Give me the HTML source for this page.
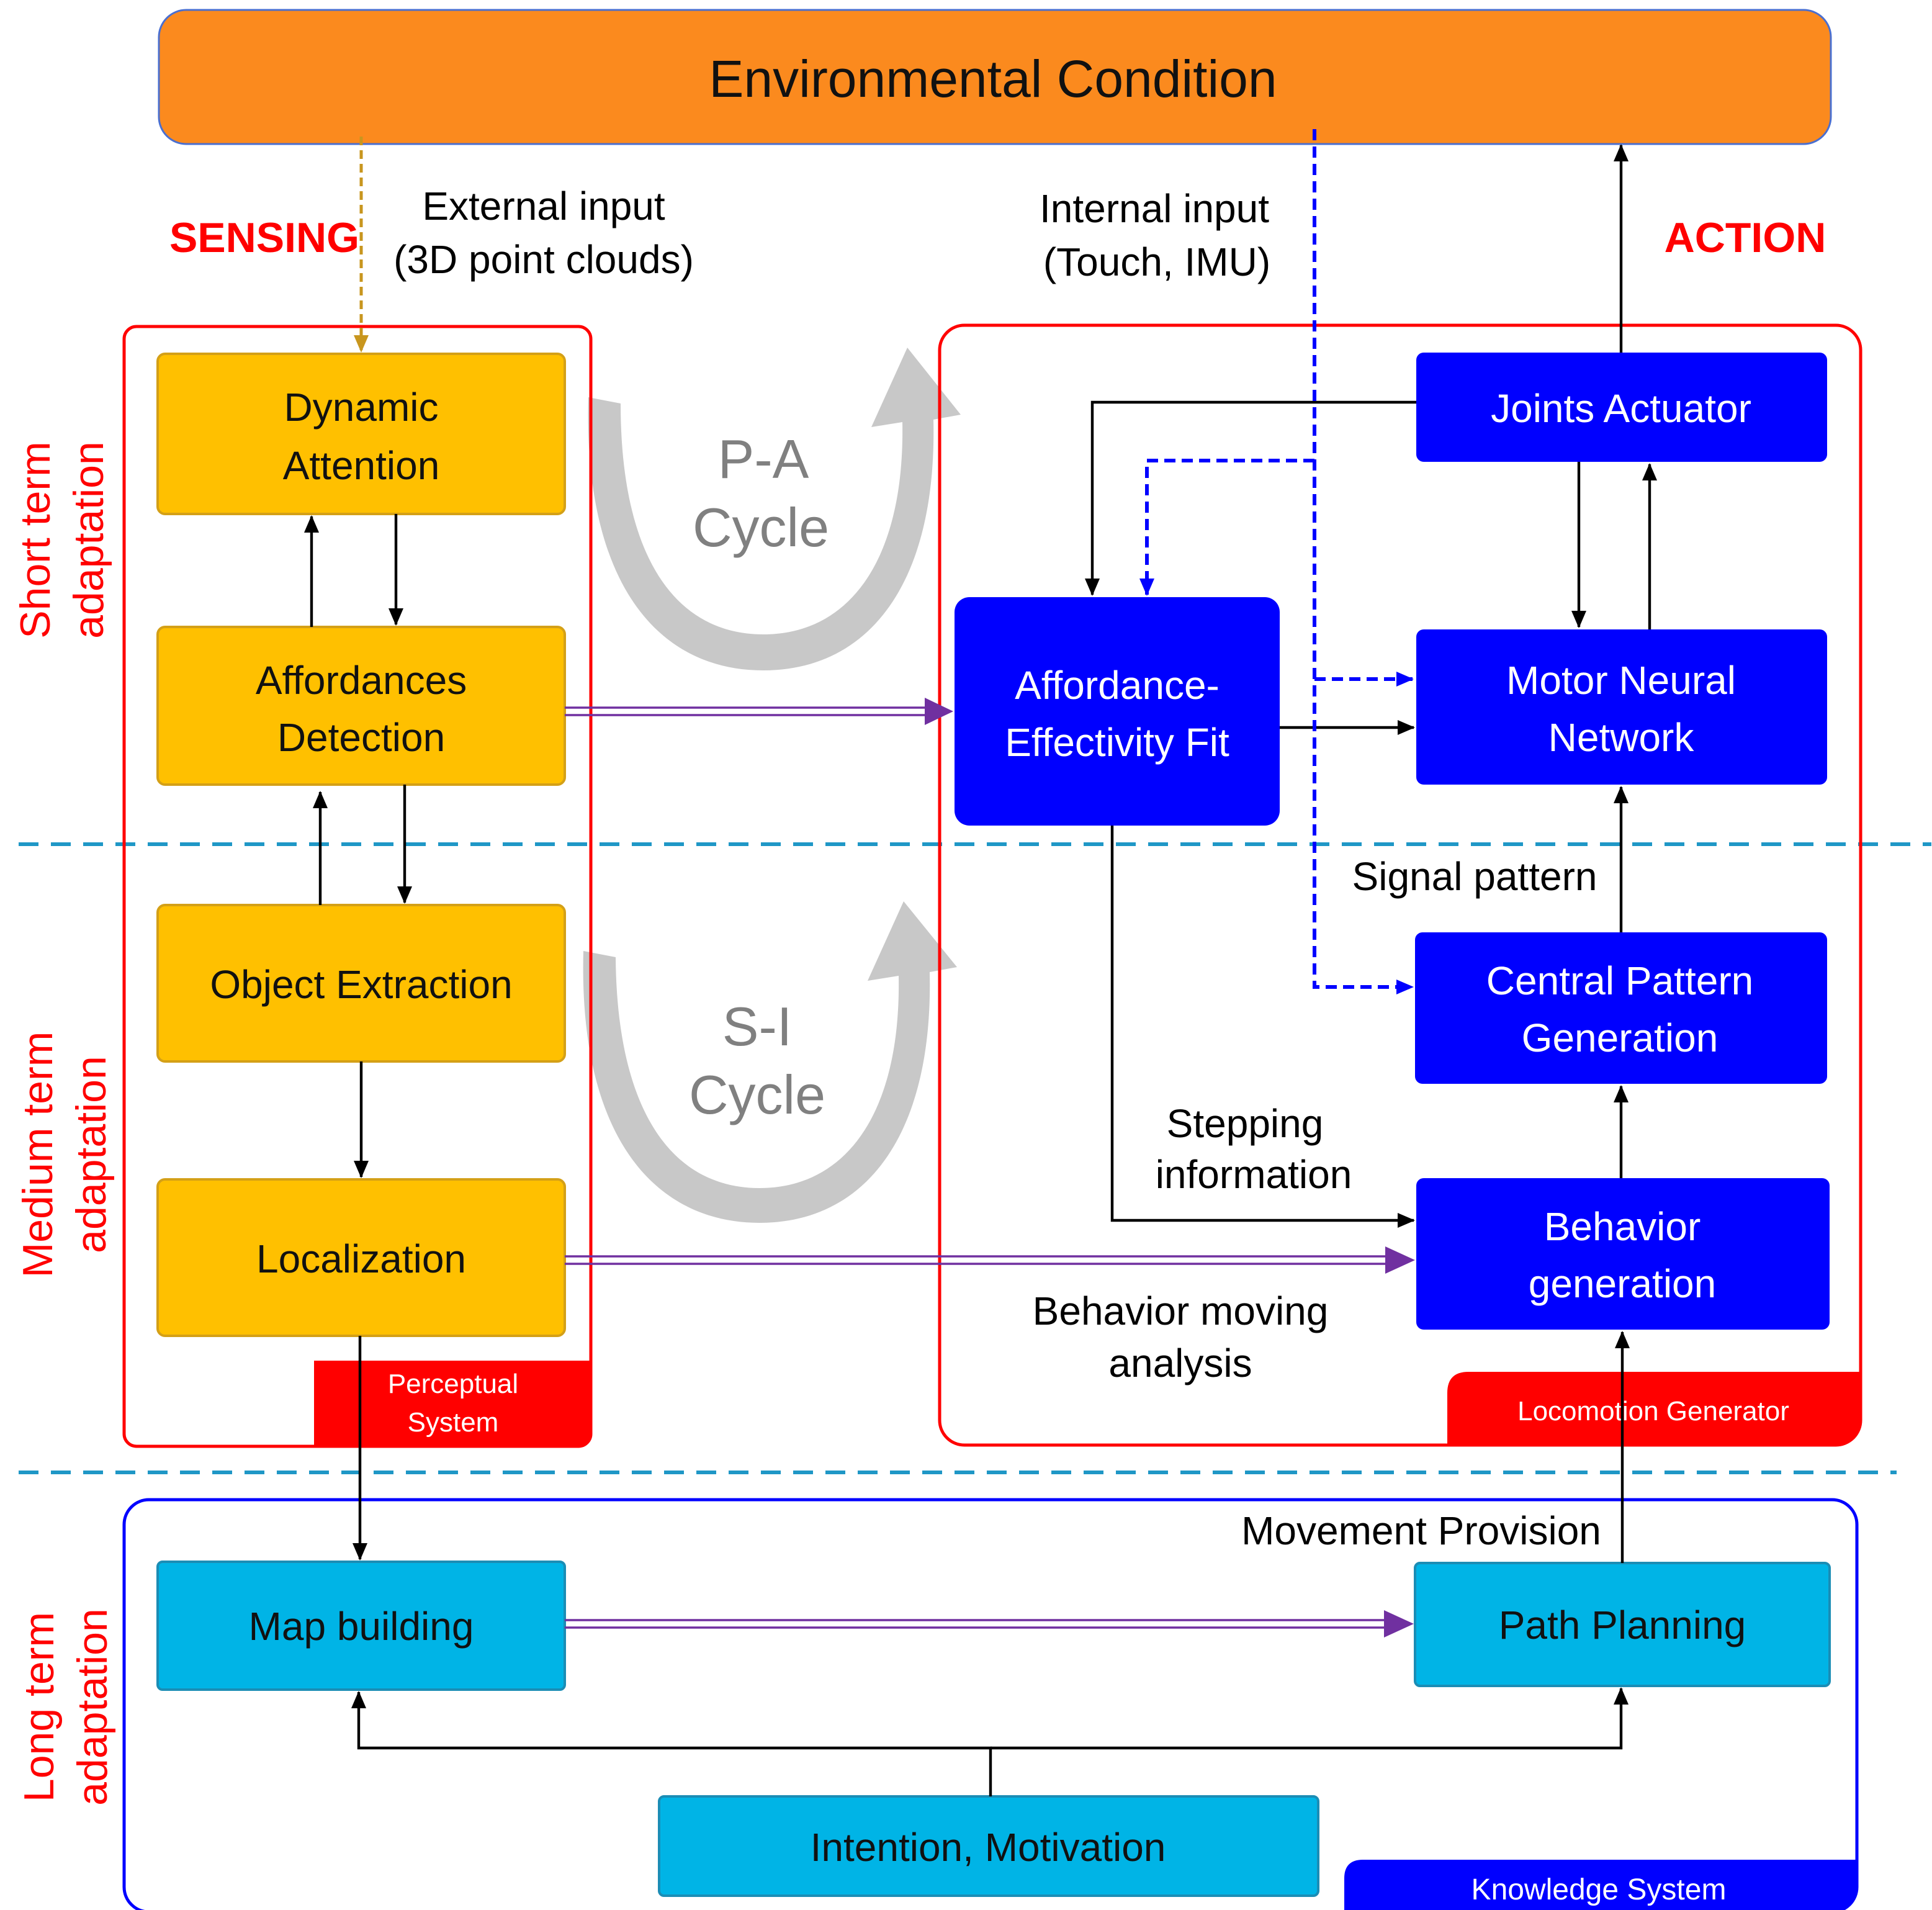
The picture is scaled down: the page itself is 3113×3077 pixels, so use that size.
<!DOCTYPE html>
<html><head><meta charset="utf-8"><style>
html,body{margin:0;padding:0;background:#fff;}
svg{display:block;}
text{font-family:"Liberation Sans",sans-serif;}
</style></head><body>
<svg width="3113" height="3077" viewBox="0 0 1556.5 1538.5" xmlns="http://www.w3.org/2000/svg">
<defs>
<marker id="ab" markerWidth="14" markerHeight="12" refX="13" refY="6" orient="auto" markerUnits="userSpaceOnUse"><path d="M0,0 L14,6 L0,12 z" fill="#000"/></marker>
<marker id="abl" markerWidth="14" markerHeight="12" refX="13" refY="6" orient="auto" markerUnits="userSpaceOnUse"><path d="M0,0 L14,6 L0,12 z" fill="#0000FF"/></marker>
<marker id="ag" markerWidth="14" markerHeight="12" refX="13" refY="6" orient="auto" markerUnits="userSpaceOnUse"><path d="M0,0 L14,6 L0,12 z" fill="#C8961E"/></marker>
</defs>

<rect x="128" y="8" width="1347" height="108" rx="22" fill="#FB8A1E" stroke="#4A6FD0" stroke-width="1.5"/>
<text x="800" y="78" font-size="42" text-anchor="middle" fill="#111">Environmental Condition</text>

<text x="213" y="203" font-size="34" font-weight="bold" fill="#FF0000" text-anchor="middle">SENSING</text>
<text x="1406" y="203" font-size="34" font-weight="bold" fill="#FF0000" text-anchor="middle">ACTION</text>
<text x="438" y="177" font-size="32" text-anchor="middle" fill="#000">External input</text>
<text x="438" y="220" font-size="32" text-anchor="middle" fill="#000">(3D point clouds)</text>
<text x="930" y="179" font-size="32" text-anchor="middle" fill="#000">Internal input</text>
<text x="932" y="222" font-size="32" text-anchor="middle" fill="#000">(Touch, IMU)</text>

<line x1="15" y1="680" x2="1556" y2="680" stroke="#1F97C6" stroke-width="3" stroke-dasharray="16,10"/>
<line x1="15" y1="1186" x2="1528" y2="1186" stroke="#1F97C6" stroke-width="3" stroke-dasharray="16,10"/>

<g font-size="34" fill="#FF0000" text-anchor="middle">
<text transform="translate(40,435) rotate(-90)">Short term</text>
<text transform="translate(83,435) rotate(-90)">adaptation</text>
<text transform="translate(42,930) rotate(-90)">Medium term</text>
<text transform="translate(85,930) rotate(-90)">adaptation</text>
<text transform="translate(43,1375) rotate(-90)">Long term</text>
<text transform="translate(86,1375) rotate(-90)">adaptation</text>
</g>

<path d="M474,320 C470,470 530,540 615,540 C700,540 755,470 752,338 L774,334 L731,280 L702,344 L727,340 C729,450 685,511 615,511 C545,511 500,450 500,325 Z" fill="#C8C8C8"/>
<text x="615" y="385" font-size="44" text-anchor="middle" fill="#808080">P-A</text>
<text x="613" y="440" font-size="44" text-anchor="middle" fill="#808080">Cycle</text>
<path d="M470,766 C466,915 527,985 612,985 C697,985 752,915 749,783 L771,779 L728,726 L699,790 L724,786 C726,896 682,957 612,957 C542,957 497,896 496,771 Z" fill="#C8C8C8"/>
<text x="610" y="842" font-size="44" text-anchor="middle" fill="#808080">S-I</text>
<text x="610" y="897" font-size="44" text-anchor="middle" fill="#808080">Cycle</text>

<rect x="100" y="263" width="376" height="902" rx="10" fill="none" stroke="#FF0000" stroke-width="2.5"/>
<path d="M253,1096 H476 V1155 Q476,1165 466,1165 H253 Z" fill="#FF0000"/>
<text x="365" y="1122" font-size="22" fill="#fff" text-anchor="middle">Perceptual</text>
<text x="365" y="1153" font-size="22" fill="#fff" text-anchor="middle">System</text>

<rect x="757" y="262" width="742" height="902" rx="20" fill="none" stroke="#FF0000" stroke-width="2.5"/>
<path d="M1166,1122 Q1166,1105 1183,1105 H1499 V1144 Q1499,1164 1479,1164 H1166 Z" fill="#FF0000"/>
<text x="1332" y="1144" font-size="22" fill="#fff" text-anchor="middle">Locomotion Generator</text>

<rect x="100" y="1208" width="1396" height="332" rx="20" fill="none" stroke="#0000FF" stroke-width="2.5"/>
<path d="M1083,1513 Q1083,1498 1098,1498 H1496 V1520 Q1496,1540 1476,1540 H1083 Z" fill="#0000FF"/>
<text x="1288" y="1530" font-size="24" fill="#fff" text-anchor="middle">Knowledge System</text>

<g fill="#FFC000" stroke="#D4A017" stroke-width="2">
<rect x="127" y="285" width="328" height="129" rx="6"/>
<rect x="127" y="505" width="328" height="127" rx="6"/>
<rect x="127" y="729" width="328" height="126" rx="6"/>
<rect x="127" y="950" width="328" height="126" rx="6"/>
</g>
<g font-size="32" fill="#111" text-anchor="middle">
<text x="291" y="339">Dynamic</text>
<text x="291" y="386">Attention</text>
<text x="291" y="559">Affordances</text>
<text x="291" y="605">Detection</text>
<text x="291" y="804">Object Extraction</text>
<text x="291" y="1025">Localization</text>
</g>

<g fill="#0000FF">
<rect x="1141" y="284" width="331" height="88" rx="6"/>
<rect x="769" y="481" width="262" height="184" rx="12"/>
<rect x="1141" y="507" width="331" height="125" rx="6"/>
<rect x="1140" y="751" width="332" height="122" rx="6"/>
<rect x="1141" y="949" width="333" height="122" rx="6"/>
</g>
<g font-size="32" fill="#fff" text-anchor="middle">
<text x="1306" y="340">Joints Actuator</text>
<text x="900" y="563">Affordance-</text>
<text x="900" y="609">Effectivity Fit</text>
<text x="1306" y="559">Motor Neural</text>
<text x="1306" y="605">Network</text>
<text x="1305" y="801">Central Pattern</text>
<text x="1305" y="847">Generation</text>
<text x="1307" y="999">Behavior</text>
<text x="1307" y="1045">generation</text>
</g>

<g fill="#00B4E6" stroke="#1B8DB5" stroke-width="2">
<rect x="127" y="1258" width="328" height="103" rx="4"/>
<rect x="1140" y="1259" width="334" height="99" rx="4"/>
<rect x="531" y="1447" width="531" height="80" rx="4"/>
</g>
<g font-size="32" fill="#111" text-anchor="middle">
<text x="291" y="1321">Map building</text>
<text x="1307" y="1320">Path Planning</text>
<text x="796" y="1499">Intention, Motivation</text>
</g>

<g font-size="32" fill="#000" text-anchor="middle">
<text x="1188" y="717">Signal pattern</text>
<text x="1003" y="916">Stepping</text>
<text x="1010" y="957">information</text>
<text x="951" y="1067">Behavior moving</text>
<text x="951" y="1109">analysis</text>
<text x="1145" y="1244">Movement Provision</text>
</g>

<g stroke="#000" stroke-width="2.2" fill="none" marker-end="url(#ab)">
<line x1="251" y1="505" x2="251" y2="416"/>
<line x1="319" y1="414" x2="319" y2="503"/>
<line x1="258" y1="729" x2="258" y2="638"/>
<line x1="326" y1="632" x2="326" y2="727"/>
<line x1="291" y1="855" x2="291" y2="948"/>
<line x1="290" y1="1076" x2="290" y2="1256"/>
<line x1="1306" y1="284" x2="1306" y2="117"/>
<polyline points="1141,324 880,324 880,479"/>
<line x1="1272" y1="372" x2="1272" y2="505"/>
<line x1="1329" y1="507" x2="1329" y2="374"/>
<line x1="1031" y1="586" x2="1139" y2="586"/>
<line x1="1306" y1="751" x2="1306" y2="634"/>
<line x1="1306" y1="949" x2="1306" y2="875"/>
<polyline points="896,665 896,983 1139,983"/>
<line x1="1307" y1="1259" x2="1307" y2="1073"/>
<polyline points="798,1447 798,1408 289,1408 289,1363"/>
<polyline points="798,1408 1306,1408 1306,1360"/>
</g>

<line x1="291" y1="110" x2="291" y2="283" stroke="#C8961E" stroke-width="2.5" stroke-dasharray="7,4" marker-end="url(#ag)"/>

<g stroke="#0000FF" stroke-width="3" fill="none" stroke-dasharray="9,5">
<polyline points="1059,104 1059,795 1138,795" marker-end="url(#abl)"/>
<polyline points="1059,371 924,371 924,479" marker-end="url(#abl)"/>
<polyline points="1059,547 1138,547" marker-end="url(#abl)"/>
</g>

<g stroke="#7030A0" stroke-width="1.8" fill="none">
<line x1="455" y1="570" x2="748" y2="570"/><line x1="455" y1="576" x2="748" y2="576"/>
<line x1="455" y1="1012" x2="1118" y2="1012"/><line x1="455" y1="1018" x2="1118" y2="1018"/>
<line x1="455" y1="1305" x2="1117" y2="1305"/><line x1="455" y1="1311" x2="1117" y2="1311"/>
</g>
<g fill="#7030A0">
<path d="M745,562 L768,573 L745,584 z"/>
<path d="M1116,1004 L1140,1015 L1116,1026 z"/>
<path d="M1115,1297 L1139,1308 L1115,1319 z"/>
</g>
</svg>
</body></html>
